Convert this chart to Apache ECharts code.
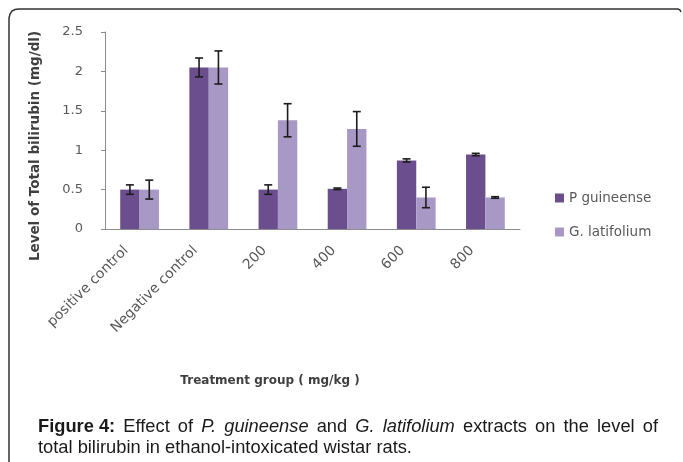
<!DOCTYPE html>
<html><head><meta charset="utf-8">
<script src="https://cdn.jsdelivr.net/npm/echarts@6/dist/echarts.min.js"></script>
<style>html,body{margin:0;padding:0;background:#fff}#c{width:683px;height:462px}</style>
</head><body><div id="c"></div>
<script>
const categories = ['positive control', 'Negative control', '200', '400', '600', '800'];
const pGuineense = [0.50, 2.05, 0.50, 0.51, 0.87, 0.945];
const pGuineenseErr = [0.06, 0.12, 0.06, 0.01, 0.02, 0.015];
const gLatifolium = [0.50, 2.05, 1.38, 1.27, 0.40, 0.40];
const gLatifoliumErr = [0.12, 0.21, 0.21, 0.22, 0.13, 0.01];
const yTicks = [0, 0.5, 1, 1.5, 2, 2.5];
const seriesNames = ['P guineense', 'G. latifolium'];

const colP = '#6a4e8e', colG = '#a898c6';
const CAT_GAP = 0.44;
const font = '"DejaVu Sans", sans-serif';

function errSeries(vals, errs, side) {
  return {
    type: 'custom', silent: true, z: 10,
    data: vals.map((v, i) => [i, v, errs[i]]),
    renderItem: function (params, api) {
      const i = api.value(0), v = api.value(1), e = api.value(2);
      const band = api.size([1, 0])[0];
      const bw = band * (1 - CAT_GAP) / 2;
      const c = api.coord([i, v]);
      const x = c[0] + side * bw / 2;
      const hi = api.coord([i, v + e])[1];
      const lo = api.coord([i, v - e])[1];
      const st = { stroke: '#1c1c1c', lineWidth: 1.6 };
      return { type: 'group', children: [
        { type: 'line', shape: { x1: x, y1: hi, x2: x, y2: lo }, style: st },
        { type: 'line', shape: { x1: x - 4, y1: hi, x2: x + 4, y2: hi }, style: st },
        { type: 'line', shape: { x1: x - 4, y1: lo, x2: x + 4, y2: lo }, style: st }
      ]};
    }
  };
}

// justified caption line
const capFont = 18.3, capFam = '"Liberation Sans", Arial, sans-serif';
const words1 = [['Figure 4:', 'bold'], ['Effect', ''], ['of', ''], ['P.', 'italic'], ['guineense', 'italic'], ['and', ''], ['G.', 'italic'], ['latifolium', 'italic'], ['extracts', ''], ['on', ''], ['the', ''], ['level', ''], ['of', '']];
const cv = document.createElement('canvas').getContext('2d');
function fstr(s) { return (s === 'bold' ? 'bold ' : s === 'italic' ? 'italic ' : '') + capFont + 'px ' + capFam; }
function w(t, s) { cv.font = fstr(s); return cv.measureText(t).width; }
const x0 = 38, x1 = 658;
const total = words1.reduce((a, b) => a + w(b[0], b[1]), 0);
const gap = (x1 - x0 - total) / (words1.length - 1);
const capEls = [];
let cx = x0;
words1.forEach(([t, s]) => {
  capEls.push({ type: 'text', x: cx, y: 426.5, style: { text: t, font: fstr(s), fill: '#1a1a1a', verticalAlign: 'middle' } });
  cx += w(t, s) + gap;
});
capEls.push({ type: 'text', x: x0, y: 448, style: { text: 'total bilirubin in ethanol-intoxicated wistar rats.', font: fstr(''), fill: '#1a1a1a', verticalAlign: 'middle' } });

const chart = echarts.init(document.getElementById('c'));
chart.setOption({
  animation: false,
  backgroundColor: '#fff',
  grid: { left: 105, right: 163, top: 32, bottom: 233, containLabel: false },
  legend: {
    orient: 'vertical', left: 550, top: 186, itemGap: 20,
    icon: 'rect', itemWidth: 9, itemHeight: 9,
    data: seriesNames,
    textStyle: { fontFamily: font, fontSize: 13.5, color: '#595959' }
  },
  xAxis: {
    type: 'category', data: categories,
    axisLine: { lineStyle: { color: '#8c8c8c' } },
    axisTick: { lineStyle: { color: '#8c8c8c' }, length: 4 },
    axisLabel: { rotate: 45, fontFamily: font, fontSize: 14, color: '#595959', margin: 6, padding: [0, 19, 0, 0] }
  },
  yAxis: {
    type: 'value', min: 0, max: 2.5, interval: 0.5,
    axisLine: { show: true, lineStyle: { color: '#8c8c8c' } },
    axisTick: { show: true, lineStyle: { color: '#8c8c8c' }, length: 4 },
    splitLine: { show: false },
    axisLabel: { fontFamily: font, fontSize: 13, color: '#595959', margin: 22,
      formatter: v => yTicks.includes(v) ? String(v) : '' }
  },
  series: [
    { name: seriesNames[0], type: 'bar', data: pGuineense, barGap: '0%', barCategoryGap: (CAT_GAP * 100) + '%', itemStyle: { color: colP } },
    { name: seriesNames[1], type: 'bar', data: gLatifolium, barGap: '0%', barCategoryGap: (CAT_GAP * 100) + '%', itemStyle: { color: colG } },
    errSeries(pGuineense, pGuineenseErr, -1),
    errSeries(gLatifolium, gLatifoliumErr, 1)
  ],
  graphic: [
    { type: 'polyline', shape: { points: [[9, 462], [9, 18], [10, 14], [12, 11], [15, 9.5], [19, 9], [678, 9], [680, 10], [681, 12]] }, style: { stroke: '#333', lineWidth: 1.5, fill: null } },
    { type: 'text', x: 35, y: 146, rotation: Math.PI / 2, style: { text: 'Level of Total bilirubin (mg/dl)', font: 'bold 13.5px ' + font, fill: '#3f3f3f', align: 'center', verticalAlign: 'middle' } },
    { type: 'text', x: 270, y: 381, style: { text: 'Treatment group ( mg/kg )', font: 'bold 12px ' + font, fill: '#3f3f3f', align: 'center', verticalAlign: 'middle' } }
  ].concat(capEls)
});
</script></body></html>
